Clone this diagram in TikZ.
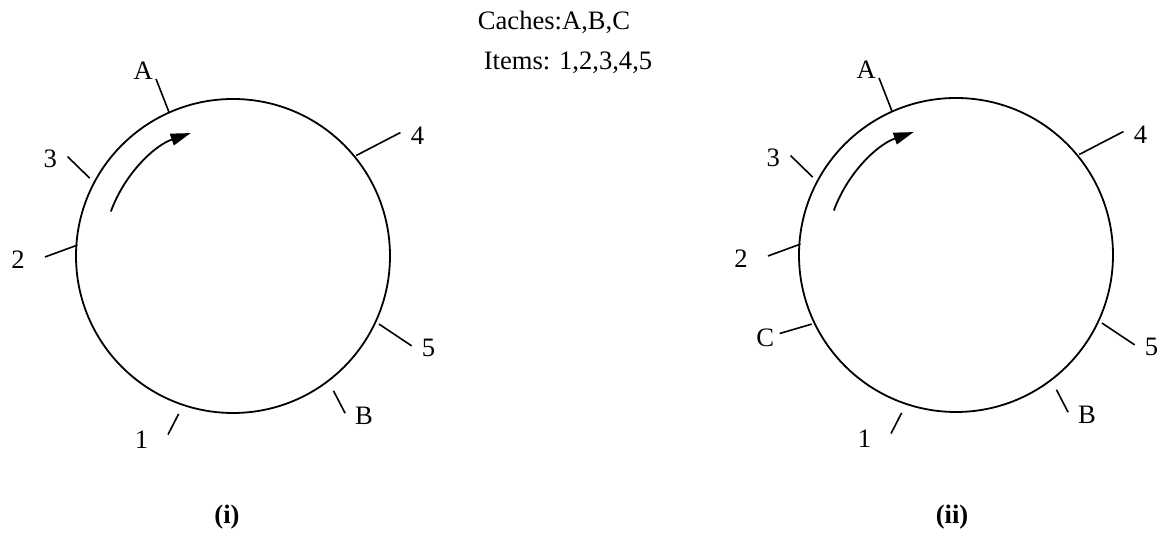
\documentclass[tikz,border=0pt]{standalone}
\usepackage{fontspec}
\setmainfont{Liberation Serif}
\usetikzlibrary{arrows.meta}
\tikzset{
  ring/.style={line width=0.9pt},
  tick/.style={line width=0.8pt},
  lbl/.style={font=\fontsize{13.3}{16}\selectfont, inner sep=0pt},
  sublabel/.style={font=\fontsize{13.3}{16}\selectfont\bfseries, inner sep=0pt},
}
\newcommand\ringticks{114/157/113.5/193/115.8/206/A,
  151.5/163/149/193/152/207/3,
  176/156/180.3/188/181/215/2,
  251/167/250/190/243.5/205/1,
  -53.3/168/-54.5/193/-50.7/207/B,
  -25/161/-26.7/200/-25.2/216/5,
  39.2/159/36.4/208/33/220/4}

\begin{document}
\begin{tikzpicture}[x=0.5pt,y=0.5pt]
\useasboundingbox (0,0) rectangle (1163,534);
\node[lbl] (caches) at (554,512) {Caches:A,B,C};
\node[lbl] (items) at (568,471) {Items: 1,2,3,4,5};

\begin{scope}[shift={(233,278)}]
\draw[ring] (0,0) circle (157);
\draw[ring, -{Triangle[length=10pt,width=6pt]}] (160:130) arc (160:109:130);
\foreach \a/\r/\b/\s/\c/\t/\l in \ringticks {
  \draw[tick] (\a:\r) -- (\b:\s);
  \node[lbl] (l\l) at (\c:\t) {\l};
}
\end{scope}
\node[sublabel] (first) at (227,17) {(i)};

\begin{scope}[shift={(956,279)}]
\draw[ring] (0,0) circle (157);
\draw[ring, -{Triangle[length=10pt,width=6pt]}] (160:130) arc (160:109:130);
\foreach \a/\r/\b/\s/\c/\t/\l in \ringticks {
  \draw[tick] (\a:\r) -- (\b:\s);
  \node[lbl] (r\l) at (\c:\t) {\l};
}
\draw[tick] (205.6:160) -- (204:193);
\node[lbl] (rC) at (203.5:208) {C};
\end{scope}
\node[sublabel] (second) at (952,17) {(ii)};
\end{tikzpicture}
\end{document}
